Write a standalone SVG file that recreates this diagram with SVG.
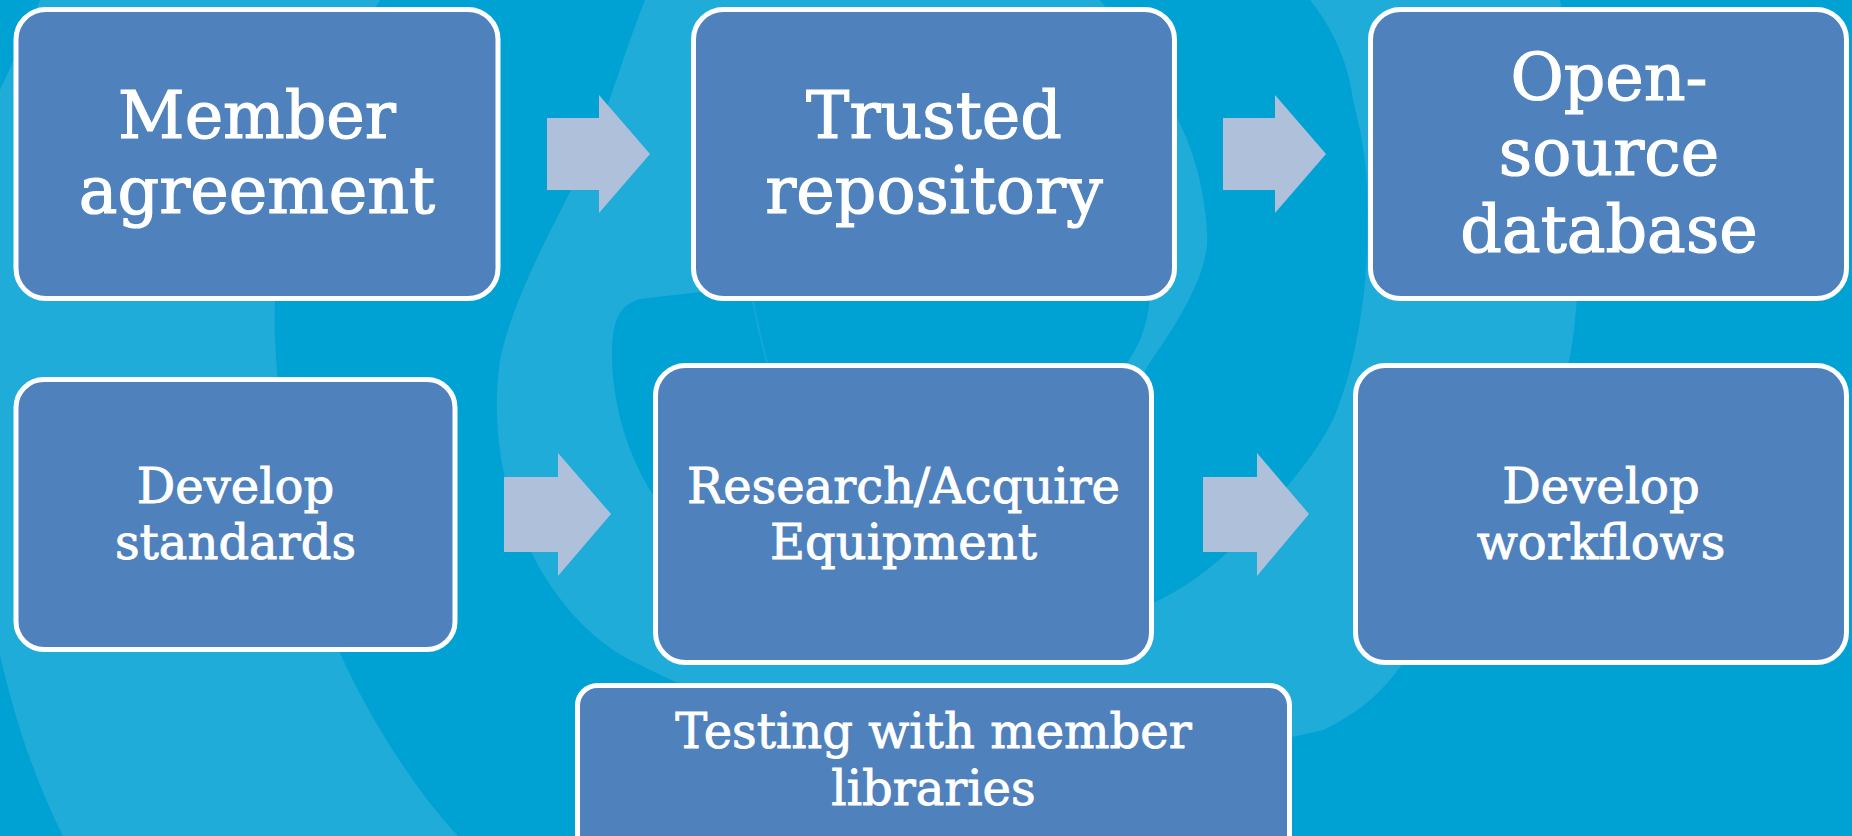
<svg xmlns="http://www.w3.org/2000/svg" width="1852" height="836" viewBox="0 0 1852 836">
  <style>
    .box { fill: #4F81BD; stroke: #FFFFFF; stroke-width: 5; }
    .arrow { fill: #AFC0DB; }
    .lbl { font-family: "DejaVu Serif", "Liberation Serif", serif; fill: #FFFFFF; stroke: #FFFFFF; text-anchor: middle; }
    .big { font-size: 65px; stroke-width: 1.2; }
    .small { font-size: 48px; stroke-width: 0.9; }
    .dark { fill: #00A2D4; }
  </style>
  <g id="background">
    <rect x="0" y="0" width="1852" height="836" fill="#20ACD9"/>
    <path class="dark" d="M0 0 L40 0 C28 30 14 60 0 90 Z"/>
    <path class="dark" d="M0 655 C15 720 35 780 63 836 L0 836 Z"/>
    <path class="dark" d="M 380 0 L 645 0 C 625 50 608 110 589 154 C 560 215 515 290 500 360 C 490 430 505 500 530 550 C 555 600 590 640 634 662 C 720 705 800 735 900 748 C 1050 765 1200 760 1323 730 C 1355 715 1380 695 1400 667 C 1480 570 1560 450 1574 330 C 1585 230 1580 100 1560 0 L 1852 0 L 1852 836 L 458 836 C 415 790 370 720 340 653 C 300 560 280 450 275 340 C 270 230 310 110 380 0 Z"/>
    <path class="dark" d="M 1100 0 L 1310 0 C 1335 30 1350 70 1353 100 C 1362 135 1368 170 1367 200 C 1368 240 1367 270 1363 300 C 1358 340 1348 385 1333 420 C 1320 445 1305 465 1290 483 C 1250 535 1205 580 1153 603 C 1050 650 870 650 740 580 C 660 530 615 450 612 360 C 612 330 614 306 640 299 L 700 292 C 800 250 1000 240 1150 290 C 1150 320 1140 345 1127 363 C 1115 385 1110 400 1120 410 C 1130 395 1140 380 1150 362 C 1180 320 1210 270 1207 233 C 1205 185 1190 140 1173 110 C 1150 70 1125 30 1100 0 Z"/>
    <path d="M 752 296 Q 758 330 768 366" fill="none" stroke="#14A7D7" stroke-width="2"/>
  </g>
  <g id="connectors">
    <polygon class="arrow" points="547,118 599,118 599,95 650,154 599,213 599,190 547,190"/>
    <polygon class="arrow" points="1223,118 1275,118 1275,95 1326,154 1275,213 1275,190 1223,190"/>
    <polygon class="arrow" points="504,477 558,477 558,453 611,514 558,576 558,552 504,552"/>
    <polygon class="arrow" points="1203,477 1257,477 1257,453 1309,514 1257,576 1257,552 1203,552"/>
  </g>
  <g id="member-agreement">
    <rect class="box" x="16" y="9.5" width="482" height="289" rx="30"/>
    <text class="lbl big" x="257" y="138">Member</text>
    <text class="lbl big" x="257" y="213">agreement</text>
  </g>
  <g id="trusted-repository">
    <rect class="box" x="693.5" y="9.5" width="481" height="289" rx="30"/>
    <text class="lbl big" x="934" y="138">Trusted</text>
    <text class="lbl big" x="934" y="213">repository</text>
  </g>
  <g id="open-source-database">
    <rect class="box" x="1370.5" y="9.5" width="476" height="289" rx="30"/>
    <text class="lbl big" x="1609" y="100">Open-</text>
    <text class="lbl big" x="1609" y="175">source</text>
    <text class="lbl big" x="1609" y="252">database</text>
  </g>
  <g id="develop-standards">
    <rect class="box" x="16" y="379.5" width="439" height="270" rx="28"/>
    <text class="lbl small" x="235.5" y="503">Develop</text>
    <text class="lbl small" x="235.5" y="559">standards</text>
  </g>
  <g id="research-acquire">
    <rect class="box" x="655.5" y="365.5" width="496" height="297" rx="30"/>
    <text class="lbl small" x="903.5" y="503">Research/Acquire</text>
    <text class="lbl small" x="903.5" y="559">Equipment</text>
  </g>
  <g id="develop-workflows">
    <rect class="box" x="1355.5" y="365.5" width="491" height="297" rx="30"/>
    <text class="lbl small" x="1601" y="503">Develop</text>
    <text class="lbl small" x="1601" y="559">workflows</text>
  </g>
  <g id="testing">
    <rect class="box" x="577.5" y="685.5" width="712" height="200" rx="20"/>
    <text class="lbl small" x="933.5" y="748">Testing with member</text>
    <text class="lbl small" x="933.5" y="805">libraries</text>
  </g>
</svg>
